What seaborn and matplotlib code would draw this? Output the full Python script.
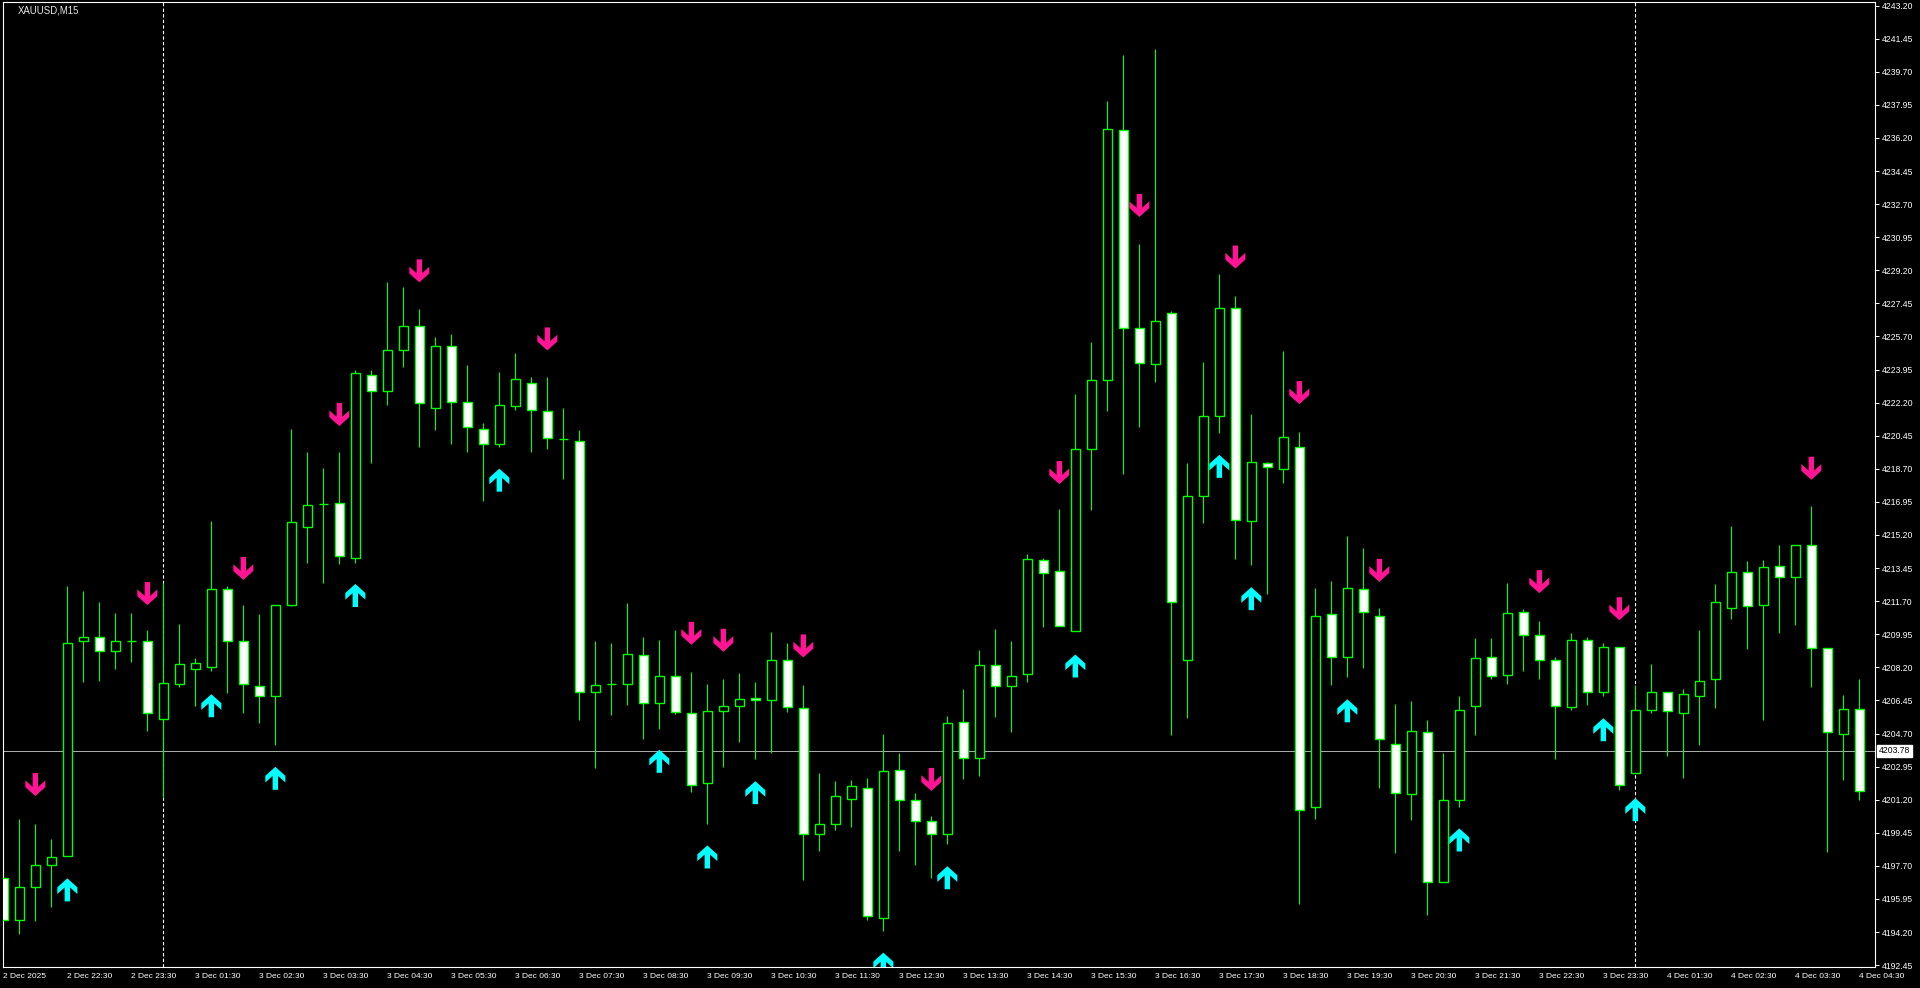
import numpy as np
import matplotlib
matplotlib.use("Agg")
import matplotlib.pyplot as plt
import seaborn as sns
from matplotlib.path import Path

# XAUUSD M15 - velas a partir de 2 Dec 21:30 (indice 0)
opens = [4197.07, 4194.83, 4196.60, 4197.77, 4198.23, 4209.57, 4209.83, 4209.07, 4209.60, 4209.57,
         4205.47, 4207.30, 4208.10, 4208.23, 4212.33, 4209.57, 4207.23, 4206.67, 4211.50, 4215.60,
         4216.83, 4216.90, 4213.97, 4223.67, 4222.80, 4224.97, 4226.27, 4221.90, 4225.17, 4222.23,
         4220.83, 4220.00, 4222.00, 4223.23, 4221.77, 4220.27, 4220.17, 4206.90, 4207.33, 4207.33,
         4208.83, 4206.33, 4207.73, 4205.77, 4202.07, 4205.90, 4206.17, 4206.60, 4206.47, 4208.60,
         4206.07, 4199.40, 4199.93, 4201.23, 4201.83, 4194.93, 4202.77, 4201.17, 4200.07, 4199.40,
         4205.33, 4203.40, 4208.33, 4207.23, 4207.83, 4213.90, 4213.27, 4210.10, 4219.73, 4223.40,
         4236.60, 4226.17, 4224.23, 4226.93, 4208.60, 4217.27, 4221.50, 4227.23, 4215.93, 4219.00,
         4218.67, 4219.83, 4200.83, 4211.00, 4208.73, 4212.33, 4210.93, 4204.17, 4201.50, 4204.77,
         4196.83, 4201.17, 4206.17, 4208.73, 4207.77, 4211.10, 4209.93, 4208.60, 4206.10, 4209.67,
         4206.90, 4209.27, 4202.60, 4205.93, 4206.90, 4205.77, 4206.67, 4207.57, 4211.33, 4213.23,
         4211.50, 4213.57, 4213.00, 4214.67, 4209.23, 4204.67, 4206.00]
closes = [4194.83, 4196.60, 4197.77, 4198.17, 4209.47, 4209.83, 4209.07, 4209.60, 4209.60, 4205.77,
          4207.37, 4208.37, 4208.43, 4212.33, 4209.57, 4207.33, 4206.67, 4211.50, 4215.90, 4216.77,
          4216.83, 4214.07, 4223.77, 4222.83, 4224.97, 4226.27, 4222.17, 4225.17, 4222.23, 4220.90,
          4220.00, 4222.10, 4223.43, 4221.83, 4220.33, 4220.27, 4206.90, 4207.27, 4207.33, 4208.90,
          4206.33, 4207.73, 4205.83, 4202.00, 4205.90, 4206.17, 4206.50, 4206.47, 4208.60, 4206.10,
          4199.40, 4199.93, 4201.40, 4201.90, 4195.07, 4202.70, 4201.17, 4200.07, 4199.40, 4205.27,
          4203.43, 4208.33, 4207.23, 4207.73, 4213.93, 4213.17, 4210.40, 4219.73, 4223.40, 4236.67,
          4226.17, 4224.27, 4226.50, 4211.67, 4217.27, 4221.50, 4227.23, 4216.00, 4219.07, 4218.80,
          4220.40, 4200.67, 4210.93, 4208.73, 4212.40, 4211.10, 4204.43, 4201.57, 4204.83, 4196.83,
          4201.17, 4205.93, 4208.67, 4207.73, 4211.07, 4209.93, 4208.60, 4206.17, 4209.67, 4206.90,
          4209.27, 4202.00, 4205.93, 4206.90, 4205.90, 4206.77, 4207.50, 4211.67, 4213.23, 4211.43,
          4213.50, 4213.00, 4214.67, 4209.23, 4204.77, 4206.00, 4201.67]
highs = [4199.83, 4200.17, 4199.90, 4199.10, 4212.50, 4212.23, 4211.67, 4211.07, 4211.07, 4210.17,
         4212.67, 4210.50, 4208.67, 4215.93, 4212.50, 4211.50, 4211.00, 4211.50, 4220.80, 4219.57,
         4218.73, 4219.60, 4223.93, 4223.93, 4228.60, 4228.33, 4227.17, 4225.67, 4225.83, 4224.17,
         4221.10, 4223.83, 4224.83, 4223.57, 4223.57, 4221.90, 4220.77, 4209.60, 4209.50, 4211.60,
         4209.83, 4209.67, 4210.17, 4207.93, 4207.33, 4207.60, 4207.90, 4207.43, 4210.07, 4209.50,
         4207.27, 4202.60, 4202.17, 4202.23, 4202.33, 4204.67, 4203.67, 4201.57, 4200.33, 4205.60,
         4207.07, 4209.10, 4210.23, 4209.60, 4214.17, 4214.00, 4216.57, 4222.67, 4225.43, 4238.17,
         4240.60, 4230.57, 4240.90, 4227.07, 4219.00, 4224.33, 4229.00, 4227.83, 4221.60, 4219.07,
         4224.93, 4220.67, 4212.40, 4212.77, 4215.17, 4214.50, 4211.33, 4206.27, 4206.40, 4205.40,
         4203.67, 4206.67, 4209.73, 4209.73, 4212.67, 4211.27, 4210.67, 4208.73, 4210.00, 4209.83,
         4209.50, 4209.27, 4207.27, 4208.40, 4206.90, 4207.07, 4210.17, 4212.60, 4215.67, 4213.83,
         4213.90, 4214.67, 4214.67, 4216.73, 4209.23, 4206.73, 4207.57]
lows = [4193.50, 4194.07, 4194.77, 4195.50, 4198.20, 4207.40, 4207.50, 4208.10, 4208.50, 4204.83,
        4201.33, 4207.17, 4206.17, 4208.00, 4206.83, 4205.77, 4205.27, 4204.07, 4211.43, 4213.73,
        4212.67, 4213.67, 4213.73, 4219.00, 4222.07, 4224.07, 4219.83, 4220.77, 4220.00, 4219.60,
        4217.00, 4219.83, 4221.83, 4219.60, 4219.77, 4218.17, 4205.40, 4202.90, 4205.67, 4206.23,
        4204.43, 4204.93, 4205.73, 4201.60, 4199.90, 4202.93, 4204.23, 4203.33, 4203.67, 4205.83,
        4196.93, 4198.50, 4199.57, 4199.73, 4194.83, 4194.27, 4198.50, 4197.77, 4197.07, 4198.83,
        4202.27, 4202.43, 4205.57, 4204.77, 4207.40, 4210.33, 4210.40, 4210.10, 4216.50, 4221.77,
        4218.40, 4220.93, 4223.27, 4204.60, 4205.50, 4215.83, 4220.57, 4213.93, 4213.60, 4212.07,
        4217.93, 4195.67, 4200.17, 4207.27, 4207.67, 4208.17, 4201.83, 4198.40, 4200.10, 4195.10,
        4196.83, 4200.83, 4204.60, 4207.57, 4207.33, 4208.00, 4207.57, 4203.33, 4205.93, 4206.23,
        4206.67, 4201.73, 4202.60, 4205.77, 4203.50, 4202.33, 4204.07, 4206.07, 4210.77, 4209.17,
        4205.40, 4210.00, 4210.43, 4207.17, 4198.43, 4202.23, 4201.17]

# sinais do indicador (setas)
sell_idx = [2, 9, 15, 21, 26, 34, 43, 45, 50, 58, 66, 71, 77, 81, 86, 96, 101, 113]
sell_price = [4202.0, 4212.1, 4213.43, 4221.57, 4229.17, 4225.57, 4210.0, 4209.63, 4209.33,
              4202.27, 4218.5, 4232.63, 4229.9, 4222.73, 4213.33, 4212.73, 4211.3, 4218.73]
buy_idx = [4, 13, 17, 22, 31, 41, 44, 47, 55, 59, 67, 76, 78, 84, 91, 100, 102]
buy_price = [4196.43, 4206.17, 4202.33, 4212.0, 4218.1, 4203.23, 4198.17, 4201.57, 4192.5,
             4197.07, 4208.27, 4218.83, 4211.83, 4205.9, 4199.07, 4204.9, 4200.67]

time_labels = ["2 Dec 2025", "2 Dec 22:30", "2 Dec 23:30", "3 Dec 01:30", "3 Dec 02:30",
               "3 Dec 03:30", "3 Dec 04:30", "3 Dec 05:30", "3 Dec 06:30", "3 Dec 07:30",
               "3 Dec 08:30", "3 Dec 09:30", "3 Dec 10:30", "3 Dec 11:30", "3 Dec 12:30",
               "3 Dec 13:30", "3 Dec 14:30", "3 Dec 15:30", "3 Dec 16:30", "3 Dec 17:30",
               "3 Dec 18:30", "3 Dec 19:30", "3 Dec 20:30", "3 Dec 21:30", "3 Dec 22:30",
               "3 Dec 23:30", "4 Dec 01:30", "4 Dec 02:30", "4 Dec 03:30", "4 Dec 04:30"]
label_idx = list(range(0, 117, 4))
separators = [10, 102]
last_price = 4203.78
price_ticks = [round(4192.45 + 1.75 * k, 2) for k in range(30)]

GREEN = "#00FF00"

sns.set_style("dark", rc={"axes.facecolor": "black", "figure.facecolor": "black",
                          "axes.edgecolor": "white", "xtick.color": "white",
                          "ytick.color": "white", "text.color": "white"})
plt.rcParams["font.family"] = ["Liberation Sans", "DejaVu Sans"]

o = np.array(opens)
c = np.array(closes)
x = np.arange(len(o))

fig = plt.figure(figsize=(19.2, 9.88), dpi=100)
ax = fig.add_axes([2.7 / 1920, 21 / 988, (1875 - 2.7) / 1920, 965 / 988])

# pavios e corpos
ax.vlines(x, lows, highs, color=GREEN, linewidth=0.8, zorder=2)
fill = ["white" if cc < oo else "black" for oo, cc in zip(o, c)]
ax.bar(x, np.abs(c - o), bottom=np.minimum(o, c), width=0.6, color=fill,
       edgecolor=GREEN, linewidth=1.0, zorder=3)

# linha de preco e separadores de dia
ax.axhline(last_price, color="#B0B0B0", linewidth=0.7, zorder=1)
for s in separators:
    ax.axvline(s, color="white", linewidth=0.8, linestyle=(0, (3, 2)), zorder=1)

# setas (seta grossa tipo wingdings)
down = Path([(-0.235, 1.0), (0.235, 1.0), (0.235, -0.21), (0.87, 0.365), (0.87, -0.217),
             (0.0, -1.0), (-0.87, -0.217), (-0.87, 0.365), (-0.235, -0.21), (-0.235, 1.0)])
up = Path([(vx, -vy) for vx, vy in down.vertices])
sns.scatterplot(x=sell_idx, y=sell_price, marker=down, s=275, color="#FF1493",
                edgecolor="none", linewidth=0, ax=ax, zorder=4, legend=False)
sns.scatterplot(x=buy_idx, y=buy_price, marker=up, s=275, color="#00FFFF",
                edgecolor="none", linewidth=0, ax=ax, zorder=4, legend=False)

ax.set_xlim(-0.04, 116.98)
ax.set_ylim(4192.35, 4243.39)

for sp in ax.spines.values():
    sp.set_color("white")
    sp.set_linewidth(0.8)

ax.yaxis.tick_right()
ax.set_yticks(price_ticks, [f"{p:.2f}" for p in price_ticks])
ax.set_xticks(label_idx, time_labels, ha="left")
ax.tick_params(axis="y", length=3, width=0.7, pad=2, labelsize=6.2, colors="white")
ax.tick_params(axis="x", length=3, width=0.7, pad=1.5, labelsize=6.0, colors="white")
ax.grid(False)
ax.set_xlabel("")
ax.set_ylabel("")

ax.annotate(f"{last_price:.2f}", xy=(1.0, last_price), xycoords=("axes fraction", "data"),
            xytext=(3.0, 0), textcoords="offset points", va="center", ha="left",
            fontsize=6.2, color="black", annotation_clip=False,
            bbox=dict(boxstyle="square,pad=0.2", facecolor="white", edgecolor="white"))

fig.text(18 / 1920, 1 - 10.5 / 988, "XAUUSD,M15", fontsize=6.9, color="#E8E8E8",
         va="center", ha="left")

fig.savefig("out.png", dpi=100, facecolor="black")
